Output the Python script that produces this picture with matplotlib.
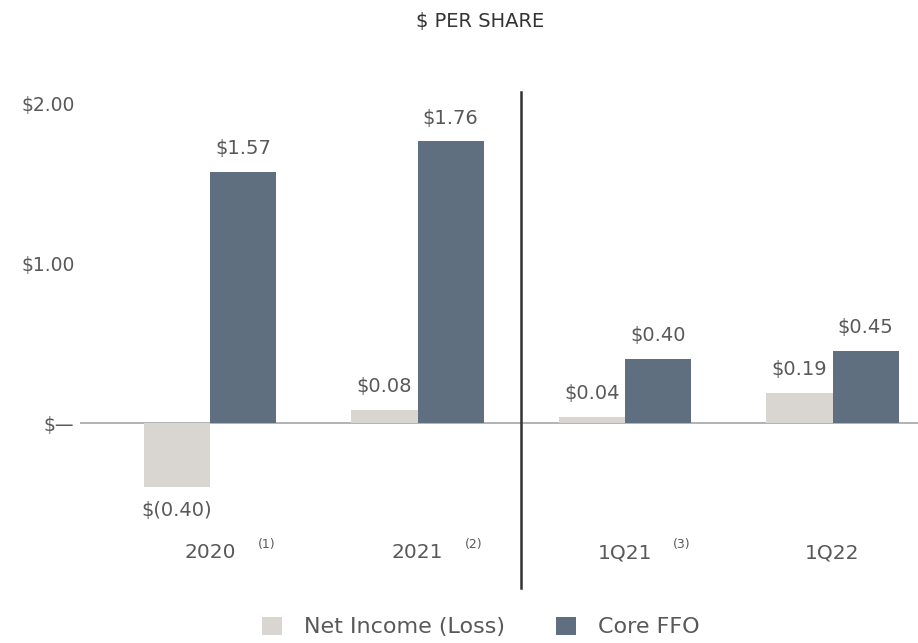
import matplotlib
matplotlib.use('Agg')
import matplotlib.pyplot as plt
import numpy as np

# data
periods = ['2020', '2021', '1Q21', '1Q22']
notes = ['(1)', '(2)', '(3)', '']
net_income = [-0.40, 0.08, 0.04, 0.19]
core_ffo = [1.57, 1.76, 0.40, 0.45]
ni_labels = ['$(0.40)', '$0.08', '$0.04', '$0.19']
ffo_labels = ['$1.57', '$1.76', '$0.40', '$0.45']
ytick_vals = [0, 1, 2]
ytick_labels = ['$\u2014', '$1.00', '$2.00']

LIGHT = '#d9d6d2'
DARK = '#5f6f80'
TXT = '#595959'

plt.rcParams['font.family'] = ['DejaVu Sans']

fig = plt.figure(figsize=(9.18, 6.43), dpi=100)
W, H = 918, 643
ax = fig.add_axes([80 / W, (643 - 503) / H, 1 - 80 / W, (503 - 60) / H])

x = np.arange(len(periods))
w = 0.32
b1 = ax.bar(x - w / 2, net_income, w, color=LIGHT, label='Net Income (Loss)')
b2 = ax.bar(x + w / 2, core_ffo, w, color=DARK, label='Core FFO')
ax.bar_label(b1, labels=ni_labels, padding=10, fontsize=14, color=TXT)
ax.bar_label(b2, labels=ffo_labels, padding=10, fontsize=14, color=TXT)

ax.set_xlim(-0.6265, 3.412)
ax.set_ylim(-0.5, (423 - 60) / 160)

ax.axhline(0, color='#a6a6a6', lw=1.2, zorder=0)
# divider between annual and quarterly figures
ax.plot([1.5, 1.5], [2.07, -1.03], color='#333333', lw=1.8, clip_on=False)

ax.set_yticks(ytick_vals)
ax.set_yticklabels(ytick_labels, fontsize=13.5, color=TXT)
ax.set_xticks(x)
ax.set_xticklabels(periods, fontsize=14.5, color=TXT)
ax.tick_params(axis='y', length=0, pad=4)
ax.tick_params(axis='x', length=0, pad=29)
for s in ax.spines.values():
    s.set_visible(False)

for i, n in enumerate(notes):
    if n:
        ax.text(i + 0.23, -0.76, n, fontsize=9, color=TXT, ha='left', va='center', clip_on=False)

fig.text(480 / W, 1 - 21 / H, '$ PER SHARE', ha='center', va='center', fontsize=14, color='#333333')

fig.legend(loc='center', bbox_to_anchor=(481 / W, 1 - 627 / H), ncol=2, frameon=False,
           fontsize=16, handlelength=0.9, handleheight=0.9, columnspacing=2.3,
           labelcolor=TXT, handletextpad=1.0)

fig.savefig('out.png', dpi=100)
